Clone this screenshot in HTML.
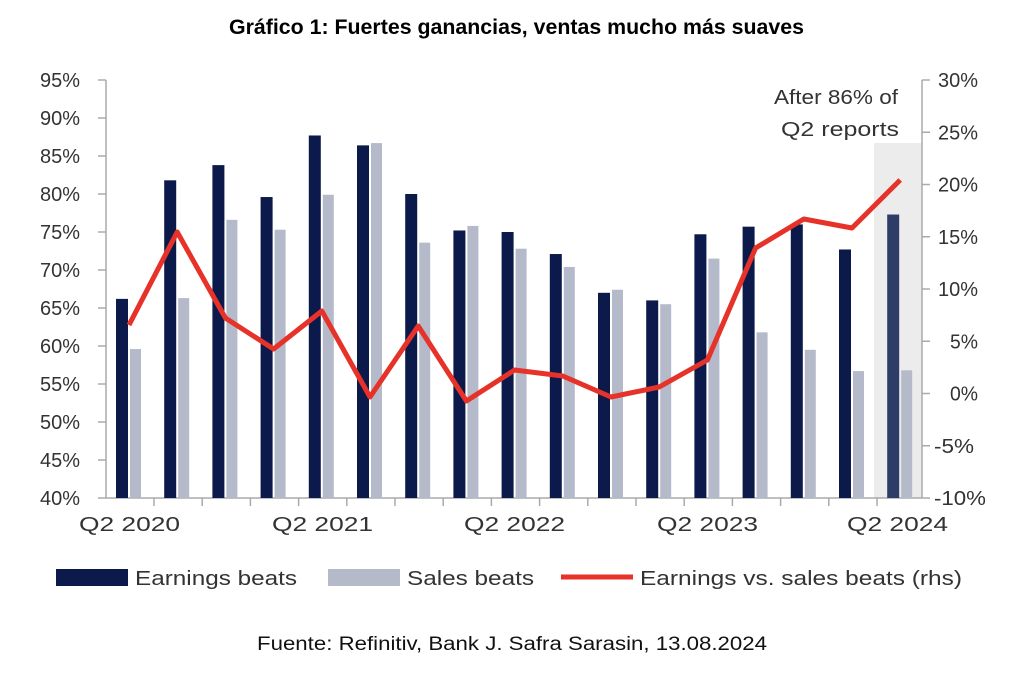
<!DOCTYPE html><html><head><style>body{margin:0;background:#fff}svg{display:block}</style></head><body>
<svg width="1024" height="674" xmlns="http://www.w3.org/2000/svg" font-family="Liberation Sans, Arial, sans-serif">
<text x="229" y="34" font-size="21" font-weight="bold" textLength="575" lengthAdjust="spacingAndGlyphs" fill="#000">Gráfico 1: Fuertes ganancias, ventas mucho más suaves</text>
<rect x="874" y="143" width="48" height="355" fill="#ececec"/>
<g stroke="#aaa" stroke-width="1.5">
<line x1="106" y1="80" x2="106" y2="498"/><line x1="922" y1="80" x2="922" y2="498"/><line x1="106" y1="498" x2="922" y2="498"/>
</g>
<g id="bars"></g>
<g font-size="20" fill="#333" id="ly"></g>
<g font-size="20" fill="#333" id="ry"></g>
<g font-size="20" fill="#333" lengthAdjust="spacingAndGlyphs">
<text x="79" y="531" textLength="101" lengthAdjust="spacingAndGlyphs">Q2 2020</text><text x="272" y="531" textLength="101" lengthAdjust="spacingAndGlyphs">Q2 2021</text><text x="464" y="531" textLength="101" lengthAdjust="spacingAndGlyphs">Q2 2022</text><text x="657" y="531" textLength="101" lengthAdjust="spacingAndGlyphs">Q2 2023</text><text x="847" y="531" textLength="101" lengthAdjust="spacingAndGlyphs">Q2 2024</text>
</g>
<g font-size="20" fill="#333"><text x="774" y="104" textLength="124" lengthAdjust="spacingAndGlyphs">After 86% of</text><text x="781" y="136" textLength="118" lengthAdjust="spacingAndGlyphs">Q2 reports</text></g>
<polyline id="ln" fill="none" stroke="#e63228" stroke-width="5" stroke-linejoin="round"/>
<rect x="56" y="569" width="72" height="17" fill="#0b1a4a"/><text x="135" y="585" font-size="20" fill="#333" textLength="162" lengthAdjust="spacingAndGlyphs">Earnings beats</text>
<rect x="328" y="569" width="72" height="17" fill="#b4bac9"/><text x="407" y="585" font-size="20" fill="#333" textLength="127" lengthAdjust="spacingAndGlyphs">Sales beats</text>
<line x1="561" y1="577" x2="633" y2="577" stroke="#e63228" stroke-width="5"/><text x="640" y="585" font-size="20" fill="#333" textLength="322" lengthAdjust="spacingAndGlyphs">Earnings vs. sales beats (rhs)</text>
<text x="257" y="650" font-size="19" fill="#111" textLength="510" lengthAdjust="spacingAndGlyphs">Fuente: Refinitiv, Bank J. Safra Sarasin, 13.08.2024</text>
</svg>
<script>
const e=[66.2,81.8,83.8,79.6,87.7,86.4,80,75.2,75,72.1,67,66,74.7,75.7,76,72.7,77.3];
const s=[59.6,66.3,76.6,75.3,79.9,86.7,73.6,75.8,72.8,70.4,67.4,65.5,71.5,61.8,59.5,56.7,56.8];
const ly=[325,232,318,349,311,397,326,401,370,376,397,387,360,248,219,228,180];
const y=v=>498-(v-40)*7.6;
const g=document.getElementById('bars');let h='',pts=[];
for(let i=0;i<17;i++){const x=116+48.2*i;
h+=`<rect x="${x}" y="${y(e[i])}" width="12" height="${498-y(e[i])}" fill="${i==16?'#2e3d68':'#0b1a4a'}"/>`;
h+=`<rect x="${x+14}" y="${y(s[i])}" width="11" height="${498-y(s[i])}" fill="#b4bac9"/>`;
if(i<16)h+=`<line x1="${x+38}" y1="498" x2="${x+38}" y2="506" stroke="#aaa" stroke-width="1.5"/>`;
pts.push((x+13)+','+ly[i]);}
g.innerHTML=h;document.getElementById('ln').setAttribute('points',pts.join(' '));
let a='',b='';for(let k=0;k<12;k++){const v=40+5*k,yy=498-38*k;a+=`<text x="40" y="${yy+7}" textLength="40" lengthAdjust="spacingAndGlyphs">${v}%</text><line x1="98" y1="${yy}" x2="106" y2="${yy}" stroke="#aaa" stroke-width="1.5"/>`;}
for(let k=0;k<9;k++){const v=-10+5*k,yy=498-52.25*k,t=String(v)+'%';const L=t.length==4?52:(t.length==3?40:28);const x0=t.length==2?950:(v<0?934:938);b+=`<text x="${x0}" y="${yy+7}" textLength="${L}" lengthAdjust="spacingAndGlyphs">${t}</text><line x1="922" y1="${yy}" x2="930" y2="${yy}" stroke="#aaa" stroke-width="1.5"/>`;}
document.getElementById('ly').innerHTML=a;document.getElementById('ry').innerHTML=b;
</script>
</body></html>
